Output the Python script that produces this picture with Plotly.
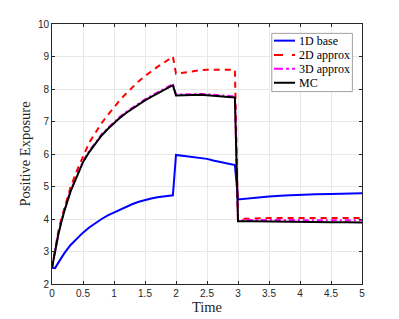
import plotly.graph_objects as go

time = [0, 0.05, 0.1, 0.15, 0.2, 0.3, 0.4, 0.5, 0.6, 0.7, 0.8, 0.9, 1.0, 1.1, 1.2, 1.3, 1.4, 1.5, 1.6, 1.7, 1.8, 1.9, 1.95,
        2.0, 2.1, 2.2, 2.3, 2.4, 2.5, 2.6, 2.7, 2.8, 2.9, 2.95,
        3.0, 3.25, 3.5, 3.75, 4.0, 4.25, 4.5, 4.75, 5.0]

base_1d = [2.5, 2.49, 2.65, 2.8, 2.95, 3.2, 3.4, 3.58, 3.74, 3.88, 4.0, 4.11, 4.2, 4.3, 4.38, 4.46, 4.53, 4.59, 4.63, 4.67, 4.7, 4.72, 4.73,
           5.97, 5.95, 5.93, 5.9, 5.88, 5.85, 5.8, 5.76, 5.72, 5.68, 5.66,
           4.6, 4.65, 4.69, 4.72, 4.75, 4.76, 4.77, 4.78, 4.79]

approx_2d = [2.5, 3.1, 3.6, 4.0, 4.35, 4.98, 5.48, 5.92, 6.35, 6.65, 6.95, 7.2, 7.45, 7.67, 7.87, 8.06, 8.24, 8.4, 8.55, 8.68, 8.8, 8.93, 9.0,
             8.47, 8.5, 8.53, 8.56, 8.58, 8.59, 8.59, 8.6, 8.6, 8.59, 8.59,
             4.0, 4.02, 4.03, 4.03, 4.03, 4.03, 4.03, 4.03, 4.03]

approx_3d = [2.5, 3.08, 3.53, 3.93, 4.28, 4.88, 5.36, 5.78, 6.09, 6.36, 6.6, 6.8, 6.98, 7.15, 7.3, 7.43, 7.56, 7.68, 7.79, 7.89, 7.99, 8.08, 8.15,
             7.83, 7.84, 7.85, 7.85, 7.85, 7.84, 7.83, 7.82, 7.8, 7.78, 7.77,
             3.97, 3.97, 3.97, 3.97, 3.97, 3.96, 3.96, 3.96, 3.96]

mc = [2.5, 3.05, 3.5, 3.9, 4.25, 4.85, 5.33, 5.75, 6.06, 6.33, 6.57, 6.77, 6.95, 7.12, 7.27, 7.4, 7.53, 7.65, 7.76, 7.86, 7.96, 8.05, 8.12,
      7.8, 7.81, 7.82, 7.82, 7.82, 7.81, 7.8, 7.79, 7.77, 7.75, 7.74,
      3.93, 3.93, 3.92, 3.92, 3.91, 3.91, 3.9, 3.9, 3.89]

series_names = ["1D base", "2D approx", "3D approx", "MC"]
series_values = [base_1d, approx_2d, approx_3d, mc]
series_colors = ["#0000ff", "#ff0000", "#ff00ff", "#000000"]
series_dashes = ["solid", "6px,5px", "6px,3px,2px,3px", "solid"]

x_ticks = [0, 0.5, 1, 1.5, 2, 2.5, 3, 3.5, 4, 4.5, 5]
y_ticks = [2, 3, 4, 5, 6, 7, 8, 9, 10]

SERIF = "Liberation Serif, Times New Roman, serif"

fig = go.Figure()
for name, vals, col, dash in zip(series_names, series_values, series_colors, series_dashes):
    fig.add_trace(go.Scatter(x=time, y=vals, mode="lines", name=name,
                             line=dict(color=col, width=2, dash=dash), showlegend=False))

# Manual legend box (paper coordinates of the plot area)
fig.add_shape(type="rect", xref="paper", yref="paper", x0=0.709, x1=0.969, y0=0.740, y1=0.964,
              line=dict(color="#a0a0a0", width=1), fillcolor="white", layer="above")
legend_y = [0.936, 0.881, 0.828, 0.774]
legend_dash = ["solid", "dash", "dashdot", "solid"]
for name, col, dash, ly in zip(series_names, series_colors, legend_dash, legend_y):
    fig.add_shape(type="line", xref="paper", yref="paper", x0=0.716, x1=0.784, y0=ly, y1=ly,
                  line=dict(color=col, width=2, dash=dash), layer="above")
    fig.add_annotation(xref="paper", yref="paper", x=0.79, y=ly, text=name, showarrow=False,
                       xanchor="left", yanchor="middle",
                       font=dict(family=SERIF, size=12, color="#000000"))

axis_common = dict(
    showgrid=True, gridcolor="#e8e8e8", gridwidth=1,
    showline=True, linecolor="#262626", linewidth=1, mirror="ticks",
    ticks="inside", ticklen=3, tickcolor="#262626",
    tickfont=dict(family="Liberation Sans, Arial", size=10, color="#262626"),
    zeroline=False, automargin=False,
)

# the page body adds an 8px offset, so the figure is 391x311
fig.update_layout(
    width=391, height=311,
    margin=dict(l=44, r=37, t=16, b=35),
    paper_bgcolor="white", plot_bgcolor="white",
    showlegend=False,
)
fig.update_xaxes(range=[0, 5], tickvals=x_ticks, ticktext=[str(v) for v in x_ticks],
                 title=dict(text="Time", font=dict(family=SERIF, size=14.5, color="#262626"), standoff=2),
                 **axis_common)
fig.update_yaxes(range=[2, 10], tickvals=y_ticks, ticktext=[str(v) for v in y_ticks],
                 title=dict(text="Positive Exposure", font=dict(family=SERIF, size=14.5, color="#262626"), standoff=3),
                 **axis_common)

fig.write_html("out.html")
